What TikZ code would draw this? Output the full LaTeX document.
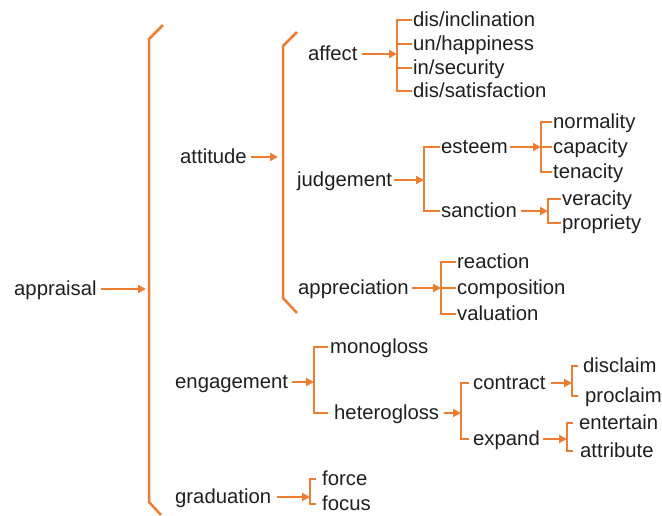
\documentclass[tikz,border=0pt]{standalone}
\usepackage{fontspec}
\setmainfont{Liberation Sans}
\usetikzlibrary{arrows.meta}
\definecolor{org}{RGB}{237,125,49}
\tikzset{
  lbl/.style={anchor=west, inner sep=0pt, text height=18.4pt, text depth=5pt, text=black!88},
  br/.style={draw=org, line width=2.5pt},
  arr/.style={draw=org, line width=2.5pt, -{Triangle[length=8pt,width=8pt]}},
}
\begin{document}
\fontsize{20.3}{24}\selectfont
\begin{tikzpicture}[x=1pt,y=-1pt]
\useasboundingbox (0,0) rectangle (662,515);
\clip (0,0) rectangle (662,515);
% nodes
\node[lbl] (appraisal) at (14,289) {appraisal};
\node[lbl] (attitude) at (180,157) {attitude};
\node[lbl] (engagement) at (175,382) {engagement};
\node[lbl] (graduation) at (175,497) {graduation};
\node[lbl] (affect) at (308,54) {affect};
\node[lbl] (judgement) at (297,180) {judgement};
\node[lbl] (appreciation) at (298,288) {appreciation};
\node[lbl] (incl) at (413,20) {dis/inclination};
\node[lbl] (happ) at (413,44) {un/happiness};
\node[lbl] (secu) at (413,68) {in/security};
\node[lbl] (sati) at (413,91) {dis/satisfaction};
\node[lbl] (esteem) at (441,147) {esteem};
\node[lbl] (sanction) at (441,211) {sanction};
\node[lbl] (norm) at (553,122) {normality};
\node[lbl] (capa) at (553,147) {capacity};
\node[lbl] (tena) at (553,172) {tenacity};
\node[lbl] (vera) at (562,199) {veracity};
\node[lbl] (prop) at (562,223) {propriety};
\node[lbl] (reac) at (457,262) {reaction};
\node[lbl] (comp) at (457,288) {composition};
\node[lbl] (valu) at (457,314) {valuation};
\node[lbl] (mono) at (330,347) {monogloss};
\node[lbl] (hete) at (334,413) {heterogloss};
\node[lbl] (contract) at (473,383) {contract};
\node[lbl] (expand) at (473,439) {expand};
\node[lbl] (disc) at (583,366) {disclaim};
\node[lbl] (proc) at (585,396) {proclaim};
\node[lbl] (ente) at (579,423) {entertain};
\node[lbl] (attr) at (580,451) {attribute};
\node[lbl] (force) at (322,479) {force};
\node[lbl] (focus) at (322,504) {focus};
% bracket x positions
\coordinate (bMain) at (149,0);
\coordinate (bAtt) at (283,0);
\coordinate (bAff) at (397,0);
\coordinate (bJud) at (424,0);
\coordinate (bEst) at (541,0);
\coordinate (bSan) at (548,0);
\coordinate (bApp) at (441,0);
\coordinate (bEng) at (314,0);
\coordinate (bHet) at (461,0);
\coordinate (bCon) at (572,0);
\coordinate (bExp) at (567,0);
\coordinate (bGra) at (310,0);
% big brackets
\draw[br] (163,25) -- (149,39) -- (149,502) -- (161,515);
\draw[br] (297,32) -- (283,46) -- (283,298) -- (297,313);
% arrows
\draw[arr, shorten <=4pt, shorten >=3pt] (appraisal.east) -- (appraisal.east -| bMain);
\draw[arr, shorten <=4pt, shorten >=5pt] (attitude.east) -- (attitude.east -| bAtt);
\draw[arr, shorten <=4pt] (affect.east) -- (affect.east -| bAff);
\draw[arr, shorten <=2pt] (judgement.east) -- (judgement.east -| bJud);
\draw[arr, shorten <=2pt] (esteem.east) -- (esteem.east -| bEst);
\draw[arr, shorten <=4pt] (sanction.east) -- (sanction.east -| bSan);
\draw[arr, shorten <=3pt] (appreciation.east) -- (appreciation.east -| bApp);
\draw[arr, shorten <=4pt] (engagement.east) -- (engagement.east -| bEng);
\draw[arr, shorten <=5pt] (hete.east) -- (hete.east -| bHet);
\draw[arr, shorten <=5pt] (contract.east) -- (contract.east -| bCon);
\draw[arr, shorten <=3pt] (expand.east) -- (expand.east -| bExp);
\draw[arr, shorten <=6pt] (graduation.east) -- (graduation.east -| bGra);
% small brackets
\draw[br, shorten <=1.5pt, shorten >=1.5pt] (incl.west) -- (incl.west -| bAff) -- (sati.west -| bAff) -- (sati.west);
\draw[br, shorten <=1.5pt] (happ.west) -- (happ.west -| bAff);
\draw[br, shorten <=1.5pt] (secu.west) -- (secu.west -| bAff);
\draw[br, shorten <=1.5pt, shorten >=1.5pt] (esteem.west) -- (esteem.west -| bJud) -- (sanction.west -| bJud) -- (sanction.west);
\draw[br, shorten <=1.5pt, shorten >=1.5pt] (norm.west) -- (norm.west -| bEst) -- (tena.west -| bEst) -- (tena.west);
\draw[br, shorten <=1.5pt] (capa.west) -- (capa.west -| bEst);
\draw[br, shorten <=1.5pt, shorten >=1.5pt] (vera.west) -- (vera.west -| bSan) -- (prop.west -| bSan) -- (prop.west);
\draw[br, shorten <=1.5pt, shorten >=1.5pt] (reac.west) -- (reac.west -| bApp) -- (valu.west -| bApp) -- (valu.west);
\draw[br, shorten <=1.5pt] (comp.west) -- (comp.west -| bApp);
\draw[br, shorten <=2pt, shorten >=6pt] (mono.west) -- (mono.west -| bEng) -- (hete.west -| bEng) -- (hete.west);
\draw[br, shorten <=4pt, shorten >=4pt] (contract.west) -- (contract.west -| bHet) -- (expand.west -| bHet) -- (expand.west);
\draw[br, shorten <=5pt, shorten >=7pt] (disc.west) -- (disc.west -| bCon) -- (proc.west -| bCon) -- (proc.west);
\draw[br, shorten <=6pt, shorten >=7pt] (ente.west) -- (ente.west -| bExp) -- (attr.west -| bExp) -- (attr.west);
\draw[br, shorten <=6pt, shorten >=6pt] (force.west) -- (force.west -| bGra) -- (focus.west -| bGra) -- (focus.west);
\end{tikzpicture}
\end{document}
